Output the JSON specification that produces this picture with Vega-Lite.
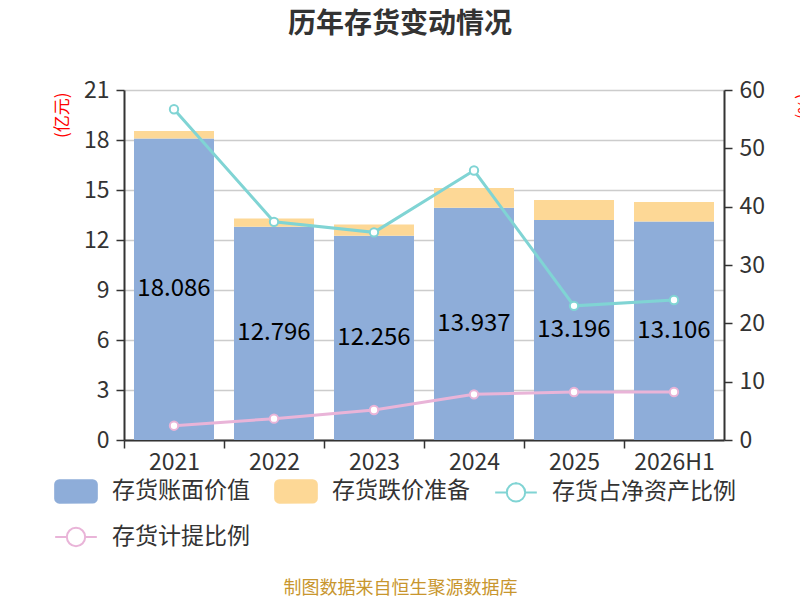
{
  "$schema": "https://vega.github.io/schema/vega-lite/v6.json",
  "width": 600,
  "height": 350,
  "autosize": {"type": "none"},
  "padding": {"left": 124, "top": 90, "right": 76, "bottom": 160},
  "background": "white",
  "title": {
    "text": "历年存货变动情况",
    "fontSize": 28,
    "fontWeight": "bold",
    "color": "#333333",
    "font": "Noto Sans CJK SC",
    "anchor": "middle",
    "dx": -24,
    "offset": 40
  },
  "datasets": {
    "bars": [
      {"year": "2021", "series": "存货账面价值", "value": 18.086},
      {"year": "2021", "series": "存货跌价准备", "value": 0.46},
      {"year": "2022", "series": "存货账面价值", "value": 12.796},
      {"year": "2022", "series": "存货跌价准备", "value": 0.49},
      {"year": "2023", "series": "存货账面价值", "value": 12.256},
      {"year": "2023", "series": "存货跌价准备", "value": 0.68},
      {"year": "2024", "series": "存货账面价值", "value": 13.937},
      {"year": "2024", "series": "存货跌价准备", "value": 1.18},
      {"year": "2025", "series": "存货账面价值", "value": 13.196},
      {"year": "2025", "series": "存货跌价准备", "value": 1.2},
      {"year": "2026H1", "series": "存货账面价值", "value": 13.106},
      {"year": "2026H1", "series": "存货跌价准备", "value": 1.18}
    ],
    "lines": [
      {"year": "2021", "series": "存货占净资产比例", "pct": 56.7},
      {"year": "2022", "series": "存货占净资产比例", "pct": 37.4},
      {"year": "2023", "series": "存货占净资产比例", "pct": 35.6},
      {"year": "2024", "series": "存货占净资产比例", "pct": 46.2},
      {"year": "2025", "series": "存货占净资产比例", "pct": 23.0},
      {"year": "2026H1", "series": "存货占净资产比例", "pct": 24.0},
      {"year": "2021", "series": "存货计提比例", "pct": 2.45},
      {"year": "2022", "series": "存货计提比例", "pct": 3.66},
      {"year": "2023", "series": "存货计提比例", "pct": 5.14},
      {"year": "2024", "series": "存货计提比例", "pct": 7.83},
      {"year": "2025", "series": "存货计提比例", "pct": 8.23},
      {"year": "2026H1", "series": "存货计提比例", "pct": 8.23}
    ]
  },
  "encoding": {
    "x": {
      "field": "year",
      "type": "nominal",
      "sort": null,
      "scale": {"paddingInner": 0.2, "paddingOuter": 0.1},
      "axis": {
        "title": "制图数据来自恒生聚源数据库",
        "titleColor": "#c8962e",
        "titleFontSize": 18,
        "titleFontWeight": "normal",
        "titleX": 276,
        "titleY": 148,
        "titleAlign": "center",
        "titleBaseline": "middle",
        "labelAngle": 0,
        "labelFontSize": 23,
        "labelColor": "#333333",
        "labelPadding": 3,
        "bandPosition": 0,
        "tickOffset": -10,
        "labelOffset": 10,
        "tickSize": 8,
        "grid": false
      }
    }
  },
  "layer": [
    {
      "data": {"name": "bars"},
      "mark": {"type": "bar"},
      "encoding": {
        "y": {
          "field": "value",
          "type": "quantitative",
          "stack": "zero",
          "scale": {"domain": [0, 21], "nice": false},
          "axis": {
            "orient": "left",
            "values": [0, 3, 6, 9, 12, 15, 18, 21],
            "title": "(亿元)",
            "titleColor": "#ff0000",
            "titleFontSize": 17,
            "titleFontWeight": "normal",
            "titleAngle": -90,
            "titleX": -62,
            "titleY": 2,
            "titleAlign": "right",
            "titleBaseline": "middle",
            "grid": true
          }
        },
        "order": {"field": "series", "type": "nominal", "sort": "ascending"},
        "color": {
          "field": "series",
          "type": "nominal",
          "scale": {
            "domain": ["存货账面价值", "存货跌价准备", "存货占净资产比例", "存货计提比例"],
            "range": ["#8eadd9", "#fdd896", "#80d4d4", "#e9b4d8"]
          },
          "legend": {
            "title": null,
            "orient": "none",
            "legendX": -74,
            "legendY": 375,
            "direction": "horizontal",
            "columns": 3,
            "columnPadding": 20,
            "rowPadding": 4,
            "symbolSize": 2500,
            "labelOffset": 10,
            "labelFontSize": 23,
            "labelColor": "#333333",
            "labelLimit": 400,
            "padding": 0,
            "encode": {
              "symbols": {
                "update": {
                  "shape": {"signal": "indexof(['存货账面价值','存货跌价准备'], datum.value) >= 0 ? 'M-0.667,-0.45H0.667A0.167,0.167 0 0 1 0.833,-0.283V0.283A0.167,0.167 0 0 1 0.667,0.45H-0.667A0.167,0.167 0 0 1 -0.833,0.283V-0.283A0.167,0.167 0 0 1 -0.667,-0.45Z' : 'M-0.833,0H-0.367M0.367,0H0.833M-0.367,0A0.367,0.367 0 1 1 0.367,0A0.367,0.367 0 1 1 -0.367,0A0.367,0.367 0 1 0 0.367,0A0.367,0.367 0 1 0 -0.367,0Z'"},
                  "stroke": {"signal": "datum.value == '存货占净资产比例' ? '#80d4d4' : datum.value == '存货计提比例' ? '#e9b4d8' : 'transparent'"},
                  "strokeWidth": {"value": 2},
                  "opacity": {"value": 1}
                }
              }
            }
          }
        }
      }
    },
    {
      "data": {"name": "bars"},
      "transform": [{"filter": "datum.series == '存货账面价值'"}],
      "mark": {"type": "text", "fontSize": 24, "color": "#000000", "baseline": "middle", "align": "center"},
      "encoding": {
        "y": {
          "field": "value",
          "type": "quantitative",
          "scale": {"domain": [0, 42], "nice": false},
          "axis": null
        },
        "text": {"field": "value", "type": "quantitative", "format": ".3f"}
      }
    },
    {
      "data": {"name": "lines"},
      "mark": {
        "type": "line",
        "strokeWidth": 3,
        "point": {"filled": false, "fill": "white", "size": 70, "strokeWidth": 2}
      },
      "encoding": {
        "y": {
          "field": "pct",
          "type": "quantitative",
          "scale": {"domain": [0, 60], "nice": false},
          "axis": {
            "orient": "right",
            "values": [0, 10, 20, 30, 40, 50, 60],
            "title": "(%)",
            "titleColor": "#ff0000",
            "titleFontSize": 16,
            "titleFontWeight": "normal",
            "titleAngle": 90,
            "titleX": 78,
            "titleY": 3,
            "titleAlign": "left",
            "titleBaseline": "middle",
            "grid": false
          }
        },
        "color": {"field": "series", "type": "nominal"}
      }
    }
  ],
  "resolve": {"scale": {"y": "independent"}},
  "config": {
    "font": "Noto Sans CJK SC",
    "view": {"stroke": null},
    "axis": {
      "domainColor": "#333333",
      "domainWidth": 2,
      "tickColor": "#333333",
      "tickWidth": 1.5,
      "tickSize": 8,
      "labelFontSize": 23,
      "labelColor": "#333333",
      "labelPadding": 7,
      "gridColor": "#cccccc",
      "gridWidth": 1.5
    }
  }
}
